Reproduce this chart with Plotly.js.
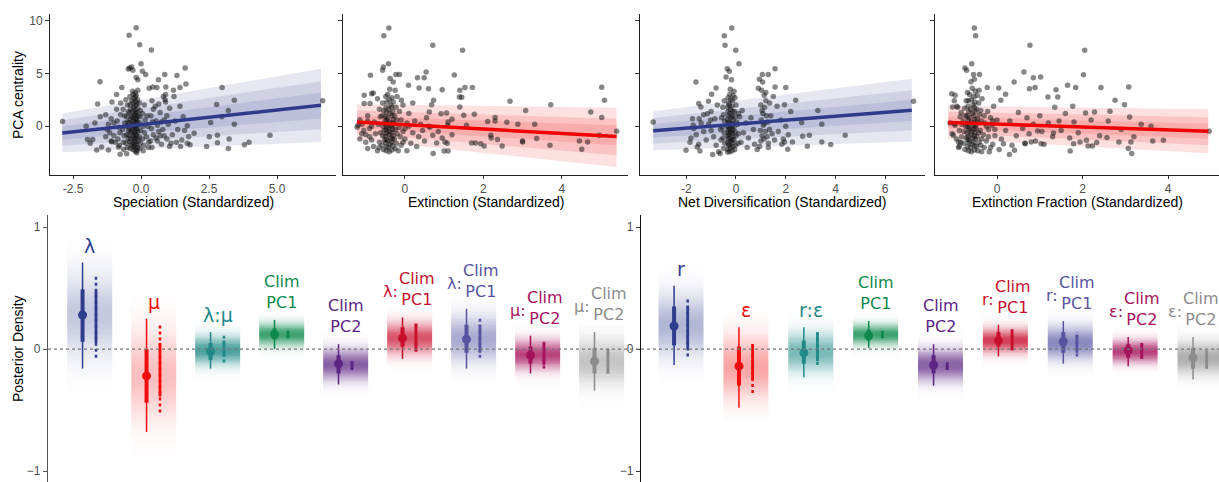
<!DOCTYPE html>
<html><head><meta charset="utf-8">
<script src="https://cdn.plot.ly/plotly-3.0.1.min.js"></script>
<style>html,body{margin:0;padding:0;background:#fff;}#chart{width:1219px;height:482px;}</style>
</head><body><div id="chart"></div>
<script>
// ---------------- TOP ROW DATA ----------------
const topTitles = ['Speciation (Standardized)','Extinction (Standardized)','Net Diversification (Standardized)','Extinction Fraction (Standardized)'];
const topTickVals = [[-2.5,0,2.5,5],[0,2,4],[-2,0,2,4,6],[0,2,4]];
const topTickText = [['-2.5','0.0','2.5','5.0'],['0','2','4'],['-2','0','2','4','6'],['0','2','4']];
const yTickVals = [0,5,10];

const specPts = [[-0.18,9.3],[-0.44,8.6],[-0.05,7.7],[0.38,7.2],[0.0,5.9],[-0.42,5.5],[-0.35,5.6],[-0.47,5.4],[-0.3,5.3],[0.05,5.2],[0.17,4.9],[-1.51,4.2],[0.87,4.9],[1.32,4.8],[1.62,5.5],[-0.18,4.6],[-0.12,4.4],[0.64,4.4],[0.91,3.7],[0.58,3.65],[0.43,3.7],[0.3,3.6],[-0.71,3.65],[1.43,3.65],[1.65,4.0],[1.19,3.4],[2.98,3.65],[-1.6,2.1],[-1.07,2.3],[-0.9,3.0],[1.21,2.8],[3.43,2.45],[2.78,2.05],[3.21,1.5],[6.68,2.4],[1.43,1.9],[-2.02,0.0],[-2.89,0.45],[2.56,0.35],[3.43,0.2],[2.97,0.9],[2.51,-1.0],[2.81,-0.85],[2.41,-1.9],[2.81,-1.55],[3.24,-1.2],[3.21,-2.1],[3.8,-1.75],[3.97,-1.5],[4.74,-0.85],[-1.97,-1.25],[-1.87,-1.6],[-1.78,-1.25],[-1.63,-2.25],[-1.45,-1.95],[-1.2,-2.25],[-1.08,-1.45],[-0.77,-2.65],[-0.53,-2.6],[-0.83,-1.95],[-0.16,-2.5],[0.08,-2.3],[0.27,-2.0],[1.8,-1.75],[1.75,-1.0],[1.6,-0.4],[1.7,0.05],[1.5,-1.3],[1.3,-1.5],[1.1,-1.6],[1.95,-0.65],[-1.7,0.3],[-1.5,0.9],[-1.3,1.1],[-1.1,0.7],[-1.25,-0.3],[-1.0,0.3],[-0.9,1.6],[-0.75,2.2],[-0.6,1.0],
[-0.3,-2.2],[-0.28,-1.9],[-0.32,-1.6],[-0.25,-1.3],[-0.3,-1.0],[-0.27,-0.7],[-0.33,-0.4],[-0.26,-0.1],[-0.3,0.2],[-0.28,0.5],[-0.31,0.8],[-0.25,1.1],[-0.3,1.4],[-0.27,1.8],[-0.3,2.2],[-0.26,2.6],[-0.29,3.0],[-0.31,3.3],
[-0.15,-2.3],[-0.12,-2.0],[-0.17,-1.7],[-0.1,-1.4],[-0.14,-1.1],[-0.18,-0.8],[-0.12,-0.5],[-0.16,-0.2],[-0.1,0.1],[-0.14,0.4],[-0.17,0.7],[-0.11,1.0],[-0.15,1.3],[-0.12,1.7],[-0.16,2.1],[-0.13,2.5],[-0.18,2.9],[-0.12,3.4],
[-0.5,-2.0],[-0.55,-1.6],[-0.48,-1.2],[-0.52,-0.8],[-0.46,-0.4],[-0.54,0.0],[-0.49,0.4],[-0.53,0.9],[-0.47,1.4],[-0.5,2.0],[-0.56,2.5],
[-0.8,-1.8],[-0.85,-1.2],[-0.78,-0.6],[-0.82,-0.1],[-0.88,0.5],[-0.75,1.1],[-0.95,-1.5],[-1.0,-0.9],[-1.1,-1.4],[-1.15,-0.6],[-1.2,0.2],[-1.3,-1.0],
[0.1,-1.8],[0.05,-1.2],[0.12,-0.6],[0.08,0.0],[0.15,0.6],[0.05,1.2],[0.12,2.0],
[0.4,-2.0],[0.35,-1.4],[0.45,-0.8],[0.38,-0.2],[0.42,0.4],[0.36,1.0],[0.45,1.6],[0.4,2.4],[0.55,-1.1],[0.6,0.1],[0.65,-0.5],[0.7,1.3],[0.75,-1.7],[0.8,-0.3],[0.85,0.6],[0.9,2.3],[0.95,-1.2],[1.0,0.2],[1.05,1.7],[0.9,3.0],[0.82,2.8],[0.88,2.5],[1.15,-0.8],[1.25,0.5],[1.35,-0.3],[1.55,0.9],[1.45,-1.9],[1.7,-1.6],
[-0.4,-2.1],[-0.36,-1.75],[-0.42,-1.45],[-0.38,-1.15],[-0.44,-0.85],[-0.37,-0.55],[-0.41,-0.25],[-0.35,0.05],[-0.43,0.35],[-0.39,0.65],[-0.36,0.95],[-0.42,1.25],[-0.38,1.6],[-0.4,2.0],[-0.35,2.4],[-0.41,2.8],
[-0.22,-2.35],[-0.2,-2.05],[-0.23,-1.75],[-0.21,-1.45],[-0.24,-1.15],[-0.19,-0.85],[-0.22,-0.55],[-0.2,-0.25],[-0.23,0.05],[-0.21,0.35],[-0.19,0.65],[-0.22,0.95],[-0.2,1.25],[-0.23,1.55],[-0.21,1.95],[-0.2,2.35],[-0.22,2.75],[-0.21,3.15],
[-0.05,-2.1],[-0.03,-1.6],[-0.06,-1.0],[-0.02,-0.4],[-0.05,0.3],[-0.04,0.9],[-0.03,1.5],[-0.06,2.2],
[-0.65,-1.5],[-0.62,-0.9],[-0.68,-0.3],[-0.6,0.3],[-0.66,1.6],[-0.64,-2.2],
[0.2,-1.0],[0.25,0.0],[0.22,1.0],[0.28,-1.5],[0.55,0.5],[0.6,-1.4],[0.7,-0.9],[0.75,0.4],[0.85,-0.9],[0.95,1.0],[1.05,-1.9],[0.52,1.9],[0.65,2.1]];

const extPts = [[-0.41,9.28],[-0.54,8.55],[0.71,7.64],[1.47,7.17],[-0.42,5.91],[-0.55,5.6],[-0.57,5.28],[-0.38,4.5],[-0.23,4.9],[-0.14,4.9],[-0.88,4.81],[0.54,5.13],[0.32,4.59],[0.49,4.59],[1.26,4.84],[-1.04,2.92],[-0.85,3.08],[-0.3,4.18],[0.09,3.87],[0.36,3.62],[0.6,3.55],[0.95,3.46],[1.4,3.4],[1.53,3.65],[1.72,3.65],[1.39,2.77],[1.45,2.75],[2.68,2.36],[3.72,2.04],[5.02,3.68],[5.09,2.45],[3.08,1.5],[4.74,1.35],[5.02,0.82],[5.4,-0.47],[4.96,-0.85],[4.66,-1.48],[4.51,-2.17],[4.45,-1.38],[3.7,-1.79],[3.36,-1.16],[3.31,0.19],[2.88,0.19],[3.0,-1.48],[3.0,-1.4],[2.6,0.38],[2.3,0.82],[2.3,0.5],[2.11,0.44],[2.19,-0.85],[2.2,-1.1],[2.36,-1.26],[2.48,-1.86],[2.02,-1.86],[1.93,-1.64],[1.8,-1.57],[1.7,-1.57],[1.57,0.09],[1.5,1.04],[1.77,1.13],[1.4,1.82],[1.2,0.66],[1.09,0.09],[1.06,1.26],[0.92,1.19],[1.0,-2.33],[1.1,-2.33],[1.02,-1.48],[1.08,-1.6],[0.72,-2.58],[0.81,-1.57],[0.71,-0.85],[0.61,0.0],[0.64,-0.1],[0.68,2.04],[0.73,2.45],[0.62,1.35],[-0.09,2.45],[0.1,0.0],[-0.89,2.14],[-1.04,2.14],[-0.81,3.14],
[-0.4,-2.4],[-0.42,-2.0],[-0.38,-1.7],[-0.44,-1.4],[-0.36,-1.1],[-0.41,-0.8],[-0.39,-0.5],[-0.43,-0.2],[-0.37,0.1],[-0.4,0.4],[-0.45,0.8],[-0.38,1.2],[-0.42,1.6],[-0.36,2.0],[-0.4,2.5],[-0.44,3.0],[-0.39,3.5],
[-0.55,-2.2],[-0.58,-1.8],[-0.52,-1.3],[-0.57,-0.9],[-0.53,-0.4],[-0.56,0.0],[-0.51,0.5],[-0.58,1.0],[-0.54,1.5],[-0.57,2.2],
[-0.25,-2.1],[-0.22,-1.6],[-0.27,-1.2],[-0.2,-0.7],[-0.24,-0.3],[-0.28,0.2],[-0.21,0.6],[-0.26,1.0],[-0.23,1.8],[-0.2,2.8],[-0.25,3.4],
[-0.8,-1.9],[-0.85,-1.3],[-0.75,-0.7],[-0.9,-0.2],[-0.78,0.4],[-0.95,1.0],[-1.0,-1.5],[-1.05,-0.4],[-1.1,0.2],[-1.2,0.1],[-1.15,-1.2],[-0.95,-2.1],[-0.7,-2.3],[-1.22,-0.1],[-0.65,1.6],[-0.7,2.6],
[-0.1,-1.8],[0.0,-1.2],[-0.05,-0.5],[0.05,0.3],[0.15,-1.6],[0.2,-0.6],[0.25,0.5],[0.3,-1.9],[0.35,-1.0],[0.4,0.2],[0.1,1.2],[0.2,2.2],[0.45,-0.4],[0.5,-1.4],[0.55,0.8],[0.05,-2.3],[-0.05,2.0],[0.85,-0.5],[0.95,-1.1],[1.1,0.4],[1.2,-0.8],
[-0.48,-2.3],[-0.46,-1.9],[-0.49,-1.55],[-0.47,-1.25],[-0.5,-0.95],[-0.46,-0.65],[-0.48,-0.35],[-0.47,-0.05],[-0.49,0.25],[-0.46,0.6],[-0.5,0.95],[-0.47,1.35],[-0.48,1.8],[-0.46,2.3],[-0.49,2.8],
[-0.33,-2.25],[-0.31,-1.85],[-0.34,-1.5],[-0.32,-1.2],[-0.3,-0.9],[-0.33,-0.6],[-0.31,-0.3],[-0.34,0.0],[-0.32,0.3],[-0.3,0.65],[-0.33,1.0],[-0.31,1.4],[-0.34,1.8],[-0.3,2.3],[-0.33,2.7],
[-0.65,-1.5],[-0.62,-0.6],[-0.68,0.2],[-0.63,0.9],[-0.66,-2.0],[-0.12,-1.0],[-0.15,-0.1],[-0.1,0.6],[-0.14,1.4],[-0.05,-1.5],[0.0,-0.2],[-0.17,-2.3],
[-0.9,-1.0],[-1.0,-0.8],[-0.85,0.0],[-1.1,-0.7],[-0.95,0.5],[-1.15,0.6]];

const netPts = [[-0.17,9.28],[-0.47,8.55],[-0.44,7.64],[-0.01,7.17],[0.12,5.91],[-0.35,5.44],[-0.27,5.2],[-0.4,4.65],[-0.18,4.4],[-1.61,4.18],[-0.8,3.62],[1.06,4.9],[1.3,4.9],[0.94,4.43],[1.57,5.44],[1.57,3.71],[2.0,3.65],[1.07,4.18],[1.03,3.4],[1.13,2.92],[2.4,2.45],[1.95,2.04],[3.29,1.5],[7.14,2.36],[3.45,0.19],[2.64,0.35],[4.39,-0.85],[2.95,-0.85],[3.45,-1.48],[3.81,-1.73],[2.87,-1.89],[2.68,-0.94],[2.08,-2.17],[2.27,-1.48],[1.95,-1.48],[1.84,-1.7],[-3.33,0.41],[-2.01,-2.26],[-1.81,-1.1],[-1.56,-1.95],[-1.45,-2.33],[-0.94,-2.67],[-0.64,-2.58],[-0.34,-2.42],[-1.5,2.14],[-1.41,1.82],[-1.11,2.36],[-0.98,3.02],[-1.48,0.72],[-1.72,0.09],[-1.75,0.72],[-1.15,1.19],[-1.02,0.6],
[-0.25,-2.4],[-0.22,-2.0],[-0.27,-1.7],[-0.2,-1.4],[-0.24,-1.1],[-0.28,-0.8],[-0.21,-0.5],[-0.26,-0.2],[-0.23,0.1],[-0.27,0.4],[-0.2,0.8],[-0.25,1.2],[-0.22,1.6],[-0.27,2.0],[-0.21,2.5],[-0.25,3.0],[-0.23,3.5],
[-0.05,-2.2],[-0.02,-1.8],[-0.08,-1.3],[0.0,-0.9],[-0.04,-0.5],[-0.07,0.0],[0.02,0.4],[-0.03,0.9],[-0.06,1.4],[0.0,2.0],[-0.04,2.7],[-0.08,3.3],
[-0.5,-2.1],[-0.45,-1.6],[-0.52,-1.1],[-0.48,-0.6],[-0.55,-0.1],[-0.46,0.5],[-0.5,1.1],[-0.53,1.8],[-0.47,2.4],
[-0.8,-1.8],[-0.9,-1.0],[-1.0,-0.4],[-1.1,0.2],[-0.85,0.7],[-1.2,-1.3],[-1.3,-0.5],[-1.4,0.3],[-1.5,-1.7],[-1.6,-0.8],[-1.7,-0.2],[-1.85,-1.5],[-1.0,1.4],[-1.3,1.1],[-0.75,2.0],[-0.7,-2.4],
[0.95,-1.9],[1.0,-1.4],[1.05,-0.9],[0.98,-0.4],[1.1,0.1],[1.02,0.6],[1.08,1.2],[1.15,1.8],[1.2,2.4],[1.3,-1.6],[1.25,-1.0],[1.35,-0.3],[1.28,0.4],[1.4,1.0],[1.45,-0.7],[1.5,2.8],[1.2,3.2],[0.85,-2.2],[0.9,3.6],[1.55,-1.3],
[0.2,-1.5],[0.3,-0.6],[0.4,0.3],[0.5,-1.1],[0.6,0.8],[0.7,-0.3],[0.25,1.5],[0.45,-2.0],[0.75,-1.7],[0.15,0.9],
[1.7,-0.5],[1.8,0.6],[1.9,-1.2],[2.0,0.0],[2.1,-0.8],[2.2,1.4],[1.65,1.9],
[-0.32,-2.2],[-0.3,-1.85],[-0.33,-1.5],[-0.31,-1.2],[-0.34,-0.9],[-0.3,-0.6],[-0.32,-0.3],[-0.33,0.0],[-0.31,0.3],[-0.34,0.65],[-0.3,1.0],[-0.32,1.4],[-0.33,1.8],[-0.3,2.2],[-0.32,2.7],
[-0.15,-2.3],[-0.13,-1.9],[-0.16,-1.55],[-0.14,-1.25],[-0.12,-0.95],[-0.15,-0.65],[-0.13,-0.35],[-0.16,-0.05],[-0.14,0.25],[-0.12,0.6],[-0.15,1.0],[-0.13,1.4],[-0.16,1.9],[-0.14,2.4],[-0.12,2.9],
[0.08,-1.6],[0.1,-0.7],[0.07,0.2],[0.1,1.2],[-0.6,-1.3],[-0.62,-0.3],[-0.58,0.8],
[1.12,-1.2],[1.18,-0.5],[1.15,0.3],[1.22,1.0],[1.05,1.5],[1.3,-2.0],[1.0,2.0],[1.35,2.2]];

const fracPts = [[-0.53,9.28],[-0.5,8.55],[0.77,7.64],[2.05,7.17],[-0.59,5.91],[-0.75,5.5],[-0.71,5.3],[-0.55,4.9],[-0.41,4.9],[-0.53,4.43],[0.63,5.13],[0.4,4.18],[0.85,4.59],[1.02,4.65],[2.02,4.87],[1.65,3.87],[1.84,3.65],[2.43,3.65],[3.08,3.71],[1.38,3.46],[1.42,2.77],[1.19,2.77],[0.76,3.55],[0.89,3.65],[0.04,3.62],[0.2,3.02],[0.09,2.45],[-0.23,3.65],[2.76,2.45],[2.98,2.04],[1.77,1.89],[2.64,1.42],[2.28,1.35],[2.07,1.26],[3.1,0.88],[3.37,0.19],[3.6,0.0],[4.96,-0.47],[3.64,-1.38],[3.89,-1.32],[3.13,-1.48],[3.07,-2.1],[3.15,-2.58],[2.85,-1.48],[2.57,-1.07],[2.33,-1.54],[2.09,-1.32],[1.94,-1.48],[2.23,-1.86],[2.13,-1.86],[1.71,-2.33],[1.79,-1.64],[1.32,-0.63],[0.95,-0.44],[1.03,-1.64],[0.8,-1.48],[0.66,-1.64],[0.29,-2.67],[0.41,-2.26],[0.15,-1.64],[-1.06,3.08],[-0.98,2.92],[-1.04,1.82],[-0.94,1.89],[-1.1,0.31],[-1.0,0.25],[-1.02,-0.85],[-0.9,-1.48],[-0.88,-1.89],
[-0.6,-2.4],[-0.62,-2.0],[-0.58,-1.7],[-0.64,-1.4],[-0.57,-1.1],[-0.61,-0.8],[-0.59,-0.5],[-0.63,-0.2],[-0.56,0.1],[-0.6,0.4],[-0.65,0.8],[-0.58,1.2],[-0.62,1.6],[-0.56,2.0],[-0.6,2.5],[-0.64,3.0],[-0.58,3.6],[-0.61,4.2],
[-0.45,-2.3],[-0.48,-1.9],[-0.42,-1.5],[-0.47,-1.0],[-0.43,-0.6],[-0.49,-0.2],[-0.44,0.3],[-0.46,0.7],[-0.41,1.1],[-0.48,1.6],[-0.43,2.2],[-0.46,2.9],[-0.42,3.4],
[-0.75,-2.2],[-0.78,-1.6],[-0.72,-1.1],[-0.77,-0.5],[-0.73,0.0],[-0.79,0.5],[-0.74,1.0],[-0.76,1.7],[-0.72,2.4],
[-0.3,-2.0],[-0.25,-1.4],[-0.32,-0.8],[-0.2,-0.3],[-0.28,0.3],[-0.15,0.8],[-0.22,1.4],[-0.1,-1.7],[-0.05,-0.9],[-0.12,0.1],[0.0,0.6],[-0.08,1.9],[-0.35,2.6],[-0.18,-2.4],[0.05,-2.2],[-0.3,1.0],
[-0.9,-2.0],[-0.95,-1.2],[-0.88,-0.4],[-0.98,0.1],[-0.86,0.9],[-1.05,-0.7],[-0.92,1.8],[-1.0,2.4],[-0.85,-1.5],
[0.1,-1.2],[0.2,-0.4],[0.3,0.5],[0.35,-1.8],[0.45,-0.9],[0.5,1.3],[0.6,-0.2],[0.65,-1.6],[0.7,0.8],[0.75,-0.7],[0.85,0.2],[0.9,-1.4],[1.0,1.0],[1.05,-0.5],[1.1,-1.7],[1.2,0.3],[1.3,-1.0],[1.35,1.8],[1.45,0.5],[1.5,-0.4],[1.6,1.2],[1.7,-1.1],[1.8,0.4],[1.9,-0.6],[2.2,0.6],[2.4,-0.9],[2.6,0.5],[2.9,-0.3],[3.2,-1.0],
[-0.67,-2.3],[-0.69,-1.9],[-0.66,-1.55],[-0.68,-1.25],[-0.67,-0.95],[-0.7,-0.65],[-0.66,-0.35],[-0.68,-0.05],[-0.69,0.25],[-0.67,0.6],[-0.7,1.0],[-0.66,1.4],[-0.68,1.9],[-0.67,2.4],[-0.69,3.2],
[-0.53,-2.25],[-0.52,-1.85],[-0.54,-1.5],[-0.51,-1.2],[-0.53,-0.9],[-0.52,-0.6],[-0.54,-0.3],[-0.51,0.0],[-0.53,0.3],[-0.52,0.65],[-0.54,1.0],[-0.51,1.4],[-0.53,1.8],[-0.52,2.3],[-0.54,2.8],[-0.51,3.3],
[-0.38,-1.8],[-0.36,-1.2],[-0.39,-0.4],[-0.37,0.5],[-0.38,1.5],[-0.36,-2.4],[-0.83,-1.0],[-0.82,0.2],[-0.84,1.3],[-0.2,-1.0],[-0.15,-2.0],[-0.25,0.0],[-0.1,0.5],[-0.05,-0.3]];

// fitted lines and credible ribbons (values at left / right ends)
const specFitX = [-2.9, 6.62], specFitY = [-0.63, 1.98];
const specLo95 = [-2.46, -1.48], specHi95 = [1.2, 5.44];
const specLo80 = [-1.83, -0.28], specHi80 = [0.57, 4.25];
const specLo50 = [-1.26, 0.73], specHi50 = [0.0, 3.18];

const extFitX = [-1.22, 5.40], extFitY = [0.41, -0.97];
const extLo95 = [-1.26, -3.84], extHi95 = [2.08, 1.76];
const extLo80 = [-0.66, -2.74], extHi80 = [1.48, 0.72];
const extLo50 = [-0.16, -1.79], extHi50 = [0.98, 0.09];

const netFitX = [-3.33, 7.07], netFitY = [-0.42, 1.52];
const netLo95 = [-2.27, -1.44], netHi95 = [1.43, 4.48];
const netLo80 = [-1.63, -0.37], netHi80 = [0.79, 3.41];
const netLo50 = [-1.06, 0.5], netHi50 = [0.22, 2.5];

const fracFitX = [-1.14, 4.94], fracFitY = [0.36, -0.47];
const fracLo95 = [-1.2, -2.55], fracHi95 = [1.92, 1.61];
const fracLo80 = [-0.66, -1.8], fracHi80 = [1.38, 0.86];
const fracLo50 = [-0.18, -1.17], fracHi50 = [0.9, 0.23];

// ---------------- BOTTOM ROW DATA ----------------
const leftLabelPre  = ['', '', '', '', '', 'λ:', 'λ:', 'μ:', 'μ:'];
const leftLabelMain = ['λ', 'μ', 'λ:μ', 'Clim<br>PC1', 'Clim<br>PC2', 'Clim<br>PC1', 'Clim<br>PC1', 'Clim<br>PC2', 'Clim<br>PC2'];
const rightLabelPre  = ['', '', '', '', '', 'r:', 'r:', 'ε:', 'ε:'];
const rightLabelMain = ['r', 'ε', 'r:ε', 'Clim<br>PC1', 'Clim<br>PC2', 'Clim<br>PC1', 'Clim<br>PC1', 'Clim<br>PC2', 'Clim<br>PC2'];
const catColors = ['#2F3D8E', '#F20D0D', '#1F8A89', '#0E8A4C', '#5C2483', '#C8102E', '#5753A1', '#A6125C', '#8C8C8C'];

const leftMed  = [0.28, -0.22, -0.02, 0.12, -0.12, 0.09, 0.08, -0.05, -0.10];
const leftLo95 = [-0.16, -0.68, -0.16, 0.00, -0.29, -0.08, -0.16, -0.20, -0.34];
const leftHi95 = [0.71, 0.25, 0.14, 0.24, 0.04, 0.26, 0.33, 0.11, 0.14];
const leftLo66 = [0.06, -0.44, -0.09, 0.08, -0.20, 0.02, -0.03, -0.12, -0.20];
const leftHi66 = [0.49, 0.00, 0.05, 0.17, -0.05, 0.18, 0.20, 0.02, 0.01];
const leftAltLoOuter = [-0.07, -0.52, -0.11, 0.09, -0.17, -0.02, -0.07, -0.16, -0.20];
const leftAltHiOuter = [0.61, 0.20, 0.11, 0.15, -0.10, 0.21, 0.25, 0.06, 0.00];
const leftAltLoInner = [0.05, -0.39, -0.06, 0.09, -0.17, -0.02, -0.03, -0.13, -0.20];
const leftAltHiInner = [0.48, 0.05, 0.07, 0.15, -0.10, 0.21, 0.20, 0.05, 0.00];

const rightMed  = [0.19, -0.14, -0.03, 0.11, -0.13, 0.07, 0.06, -0.01, -0.07];
const rightLo95 = [-0.13, -0.48, -0.23, 0.01, -0.30, -0.06, -0.12, -0.14, -0.25];
const rightHi95 = [0.52, 0.18, 0.18, 0.23, 0.04, 0.20, 0.23, 0.10, 0.10];
const rightLo66 = [0.03, -0.30, -0.12, 0.07, -0.20, 0.02, -0.03, -0.07, -0.16];
const rightHi66 = [0.35, 0.02, 0.07, 0.16, -0.05, 0.14, 0.14, 0.04, 0.01];
const rightAltLoOuter = [-0.06, -0.36, -0.13, 0.09, -0.17, -0.01, -0.06, -0.08, -0.16];
const rightAltHiOuter = [0.42, 0.04, 0.16, 0.15, -0.11, 0.16, 0.14, 0.05, -0.01];
const rightAltLoInner = [0.01, -0.25, -0.10, 0.09, -0.17, -0.01, -0.03, -0.08, -0.16];
const rightAltHiInner = [0.35, 0.04, 0.13, 0.15, -0.11, 0.16, 0.12, 0.05, -0.01];

// ---------------- BUILD ----------------
const W = 1219, H = 482;
const traces = [];
const annotations = [];
const shapes = [];

function hexToRgb(h){h=h.replace('#','');return [parseInt(h.substr(0,2),16),parseInt(h.substr(2,2),16),parseInt(h.substr(4,2),16)];}

const topPanels = [
  {pts: specPts, fx: specFitX, fy: specFitY, lo:[specLo95,specLo80,specLo50], hi:[specHi95,specHi80,specHi50], col:'#2E3B8C'},
  {pts: extPts,  fx: extFitX,  fy: extFitY,  lo:[extLo95,extLo80,extLo50],    hi:[extHi95,extHi80,extHi50],    col:'#F00000'},
  {pts: netPts,  fx: netFitX,  fy: netFitY,  lo:[netLo95,netLo80,netLo50],    hi:[netHi95,netHi80,netHi50],    col:'#2E3B8C'},
  {pts: fracPts, fx: fracFitX, fy: fracFitY, lo:[fracLo95,fracLo80,fracLo50], hi:[fracHi95,fracHi80,fracHi50], col:'#F00000'}
];

topPanels.forEach((p, i) => {
  const xa = 'x' + (i+1), ya = 'y' + (i+1);
  const rgb = hexToRgb(p.col);
  for (let k = 0; k < 3; k++) {
    traces.push({type:'scatter', mode:'lines', xaxis:xa, yaxis:ya,
      x:[p.fx[0], p.fx[1], p.fx[1], p.fx[0], p.fx[0]],
      y:[p.lo[k][0], p.lo[k][1], p.hi[k][1], p.hi[k][0], p.lo[k][0]],
      fill:'toself', fillcolor:`rgba(${rgb[0]},${rgb[1]},${rgb[2]},0.12)`, line:{width:0}, hoverinfo:'skip'});
  }
  traces.push({type:'scatter', mode:'markers', xaxis:xa, yaxis:ya,
    x: p.pts.map(d=>d[0]), y: p.pts.map(d=>d[1]),
    marker:{size:5.5, color:'rgba(15,15,15,0.5)', line:{width:0}}, hoverinfo:'skip'});
  traces.push({type:'scatter', mode:'lines', xaxis:xa, yaxis:ya, x:p.fx, y:p.fy,
    line:{color:p.col, width:3.5}, hoverinfo:'skip'});
});

function bandTrace(xc, lo, hi, color, xa, ya){
  const mid = (lo+hi)/2, sd = (hi-lo)/3.92;
  const peak = Math.min(0.8, 0.062/sd);
  const n = 70, y0 = mid-3.2*sd, y1 = mid+3.2*sd;
  const ye = [], z = [];
  for (let k=0;k<=n;k++) ye.push(y0+(y1-y0)*k/n);
  for (let k=0;k<n;k++){const yc=(ye[k]+ye[k+1])/2;const t=(yc-mid)/sd;z.push([peak*Math.exp(-0.5*t*t)]);}
  return {type:'heatmap', xaxis:xa, yaxis:ya, x:[xc-0.35, xc+0.35], y:ye, z:z, zmin:0, zmax:1,
    colorscale:[[0,'#ffffff'],[1,color]], showscale:false, hoverinfo:'skip'};
}

const bottomPanels = [
  {xa:'x5', ya:'y5', pre:leftLabelPre, main:leftLabelMain, med:leftMed, lo95:leftLo95, hi95:leftHi95, lo66:leftLo66, hi66:leftHi66,
   aLoO:leftAltLoOuter, aHiO:leftAltHiOuter, aLoI:leftAltLoInner, aHiI:leftAltHiInner, edge:false},
  {xa:'x6', ya:'y6', pre:rightLabelPre, main:rightLabelMain, med:rightMed, lo95:rightLo95, hi95:rightHi95, lo66:rightLo66, hi66:rightHi66,
   aLoO:rightAltLoOuter, aHiO:rightAltHiOuter, aLoI:rightAltLoInner, aHiI:rightAltHiInner, edge:true}
];

bottomPanels.forEach(b => {
  b.med.forEach((m, i) => {
    traces.push(bandTrace(i + 1, b.lo95[i], b.hi95[i], catColors[i], b.xa, b.ya));
  });
});
bottomPanels.forEach(b => {
  b.med.forEach((m, i) => {
    const xc = i + 1, c = catColors[i];
    const xp = xc - 0.11, xs = xc + 0.10;
    traces.push({type:'scatter', mode:'lines', xaxis:b.xa, yaxis:b.ya, x:[xp,xp], y:[b.lo95[i], b.hi95[i]], line:{color:c, width:1.5}, hoverinfo:'skip'});
    traces.push({type:'scatter', mode:'lines', xaxis:b.xa, yaxis:b.ya, x:[xp,xp], y:[b.lo66[i], b.hi66[i]], line:{color:c, width:4}, hoverinfo:'skip'});
    traces.push({type:'scatter', mode:'markers', xaxis:b.xa, yaxis:b.ya, x:[xp], y:[m], marker:{color:c, size:9}, hoverinfo:'skip'});
    traces.push({type:'scatter', mode:'lines', xaxis:b.xa, yaxis:b.ya, x:[xs,xs], y:[b.aLoO[i], b.aHiO[i]], line:{color:c, width:2.5, dash:'dot'}, hoverinfo:'skip'});
    traces.push({type:'scatter', mode:'lines', xaxis:b.xa, yaxis:b.ya, x:[xs,xs], y:[b.aLoI[i], b.aHiI[i]], line:{color:c, width:2.8}, hoverinfo:'skip'});
    const hasPre = b.pre[i] !== '';
    const isClim = b.main[i].indexOf('Clim') === 0;
    // keep the last label inside the page edge
    const atEdge = b.edge && i === b.med.length - 1;
    const mainShift = hasPre ? (atEdge ? 1 : 7) : 0;
    annotations.push({xref:b.xa, yref:b.ya, x:xc, y:b.hi95[i], xshift: mainShift, yshift: isClim ? 6 : 4,
      yanchor:'bottom', xanchor:'center', showarrow:false, text:b.main[i],
      font:{family:'DejaVu Sans, sans-serif', size: isClim ? 16 : 19, color:c}});
    if (hasPre) {
      annotations.push({xref:b.xa, yref:b.ya, x:xc, y:b.hi95[i], xshift: mainShift - 17, yshift:14,
        yanchor:'bottom', xanchor:'right', showarrow:false, text:b.pre[i],
        font:{family:'DejaVu Sans, sans-serif', size:16, color:c}});
    }
  });
});

shapes.push({type:'line', xref:'paper', yref:'y5', x0:48/W, x1:640/W, y0:0, y1:0, line:{color:'#777', width:1.2, dash:'dot'}, layer:'above'});
shapes.push({type:'line', xref:'paper', yref:'y6', x0:641/W, x1:1, y0:0, y1:0, line:{color:'#777', width:1.2, dash:'dot'}, layer:'above'});

const titleFont = {family:'Liberation Sans, Arial, sans-serif', size:14, color:'#000'};
const centers = [(50+336)/2, (343+628)/2, (640+925)/2, (935+1219)/2];
topTitles.forEach((t, i) => {
  annotations.push({xref:'paper', yref:'paper', x:centers[i]/W, y:1-202/H, xanchor:'center', yanchor:'middle',
    showarrow:false, text:t, font:titleFont});
});
annotations.push({xref:'paper', yref:'paper', x:18/W, y:1-95/H, xanchor:'center', yanchor:'middle', textangle:-90,
  showarrow:false, text:'PCA centrality', font:titleFont});
annotations.push({xref:'paper', yref:'paper', x:18/W, y:1-349/H, xanchor:'center', yanchor:'middle', textangle:-90,
  showarrow:false, text:'Posterior Density', font:titleFont});

const tickFont = {family:'Liberation Sans, Arial, sans-serif', size:12, color:'#4d4d4d'};
const topYDomain = [1-175/H, 1-14/H];
const xDomains = [[50/W, 336/W],[343/W, 628/W],[640/W, 925/W],[935/W, 1]];
const xRanges = [[-3.35, 7.17],[-1.58, 5.69],[-3.86, 7.6],[-1.45, 5.19]];

const layout = {
  width: W, height: H, margin:{l:0,r:0,t:0,b:0}, paper_bgcolor:'#fff', plot_bgcolor:'rgba(0,0,0,0)',
  showlegend:false, annotations, shapes, hovermode:false
};
for (let i=0;i<4;i++){
  layout['xaxis'+(i+1)] = {domain:xDomains[i], range:xRanges[i], anchor:'y'+(i+1), showgrid:false, zeroline:false,
    showline:true, linecolor:'#222', linewidth:1, ticks:'outside', ticklen:3, tickcolor:'#333',
    tickvals:topTickVals[i], ticktext:topTickText[i], tickfont:tickFont};
  layout['yaxis'+(i+1)] = {domain:topYDomain, range:[-4.6, 10.6], anchor:'x'+(i+1), showgrid:false, zeroline:false,
    showline:true, linecolor:'#222', linewidth:1, ticks:'outside', ticklen:4, tickcolor:'#333',
    tickvals:yTickVals, showticklabels: i===0, tickfont:tickFont};
}
layout.xaxis5 = {domain:[48/W, 638/W], range:[0.35, 9.57], anchor:'y5', visible:false};
layout.yaxis5 = {domain:[0, 1-215/H], range:[-1.09, 1.1], anchor:'x5', showgrid:false, zeroline:false,
  showline:true, linecolor:'#555', linewidth:1.2, ticks:'outside', ticklen:4, tickcolor:'#555', tickvals:[-1,0,1], tickfont:tickFont};
layout.xaxis6 = {domain:[641/W, 1], range:[0.38, 9.29], anchor:'y6', visible:false};
layout.yaxis6 = {domain:[0, 1-215/H], range:[-1.09, 1.1], anchor:'x6', showgrid:false, zeroline:false,
  showline:true, linecolor:'#111', linewidth:1.2, ticks:'outside', ticklen:4, tickcolor:'#333', tickvals:[-1,0,1], tickfont:tickFont};

Plotly.newPlot('chart', traces, layout, {staticPlot:true, displayModeBar:false});
</script></body></html>
